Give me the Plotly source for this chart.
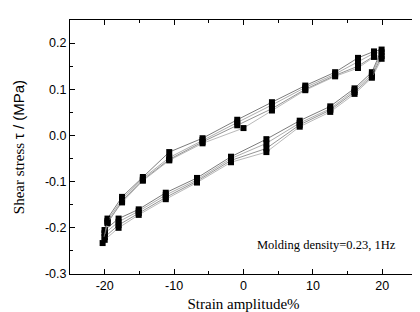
import plotly.graph_objects as go

# strain (%) for one loading cycle: upper branch -20 -> +20, then lower branch back to -20
strain = [-20.0, -19.6, -17.5, -14.5, -10.7, -5.9, -0.9, 4.1, 8.9, 13.2, 16.5, 18.8, 19.9,
          18.5, 16.0, 12.5, 8.1, 3.3, -1.8, -6.7, -11.2, -15.1, -18.0, -20.0]
strain_c4 = [-20.3, -19.6, -17.5, -14.5, -10.7, -5.9, 0.0, 4.1, 8.9, 13.2, 16.5, 18.8, 19.9,
             18.5, 16.0, 12.5, 8.1, 3.3, -1.8, -6.7, -11.2, -15.1, -18.0, -20.0]

cycle1 = [-0.205, -0.180, -0.133, -0.090, -0.036, -0.006, 0.034, 0.072, 0.108, 0.137, 0.168, 0.182, 0.186,
          0.137, 0.102, 0.063, 0.032, -0.008, -0.046, -0.092, -0.124, -0.160, -0.180, -0.205]
cycle2 = [-0.212, -0.185, -0.138, -0.093, -0.048, -0.010, 0.028, 0.066, 0.104, 0.133, 0.160, 0.178, 0.180,
          0.132, 0.098, 0.058, 0.027, -0.017, -0.050, -0.096, -0.129, -0.164, -0.187, -0.212]
cycle3 = [-0.220, -0.190, -0.142, -0.096, -0.052, -0.014, 0.022, 0.058, 0.100, 0.130, 0.150, 0.172, 0.172,
          0.128, 0.094, 0.055, 0.023, -0.028, -0.054, -0.099, -0.134, -0.168, -0.194, -0.220]
cycle4 = [-0.233, -0.188, -0.145, -0.098, -0.054, -0.017, 0.016, 0.054, 0.098, 0.128, 0.146, 0.170, 0.166,
          0.125, 0.090, 0.051, 0.019, -0.036, -0.058, -0.102, -0.138, -0.172, -0.200, -0.226]

x_ticks = [-20, -10, 0, 10, 20]
y_ticks = [-0.3, -0.2, -0.1, 0.0, 0.1, 0.2]

cycles = [(strain, cycle1, "#444444"), (strain, cycle2, "#888888"),
          (strain, cycle3, "#666666"), (strain_c4, cycle4, "#999999")]

fig = go.Figure()
for xs, ys, col in cycles:
    fig.add_trace(go.Scatter(
        x=xs, y=ys, mode="lines+markers",
        line=dict(color=col, width=0.7),
        marker=dict(symbol="square", size=6, color="black", line=dict(width=0)),
        showlegend=False,
    ))

fig.update_layout(
    width=420, height=312,
    margin=dict(l=60, r=10, t=12, b=43),
    paper_bgcolor="white", plot_bgcolor="white",
    font=dict(family="Liberation Sans, Arial", size=12, color="black"),
    xaxis=dict(
        range=[-25, 25], tickvals=x_ticks, ticktext=[str(v) for v in x_ticks],
        ticks="inside", ticklen=5, tickwidth=1, tickcolor="black",
        minor=dict(dtick=5, tick0=0, ticks="inside", ticklen=3, tickcolor="black", showgrid=False),
        showline=True, linecolor="black", linewidth=1, mirror="ticks",
        showgrid=False, zeroline=False,
        tickfont=dict(family="Liberation Sans, Arial", size=12.5),
        title=dict(text="Strain amplitude%", font=dict(family="Liberation Serif, Times New Roman", size=15),
                   standoff=6),
    ),
    yaxis=dict(
        range=[-0.3, 0.25], tickvals=y_ticks, ticktext=["%.1f" % v for v in y_ticks],
        ticks="inside", ticklen=5, tickwidth=1, tickcolor="black",
        minor=dict(dtick=0.05, tick0=0, ticks="inside", ticklen=3, tickcolor="black", showgrid=False),
        showline=True, linecolor="black", linewidth=1, mirror=True,
        showgrid=False, zeroline=False,
        tickfont=dict(family="Liberation Sans, Arial", size=12.5),
        title=dict(text="Shear stress <span style='font-family:Liberation Sans'>τ / (MPa)</span>",
                   font=dict(family="Liberation Serif, Times New Roman", size=15), standoff=16),
    ),
    annotations=[dict(
        text="Molding density=0.23, 1Hz", xref="x", yref="y", x=22.3, y=-0.238,
        xanchor="right", yanchor="middle", showarrow=False,
        font=dict(family="Liberation Serif, Times New Roman", size=12.5, color="black"),
    )],
)

fig.write_html("out.html")
